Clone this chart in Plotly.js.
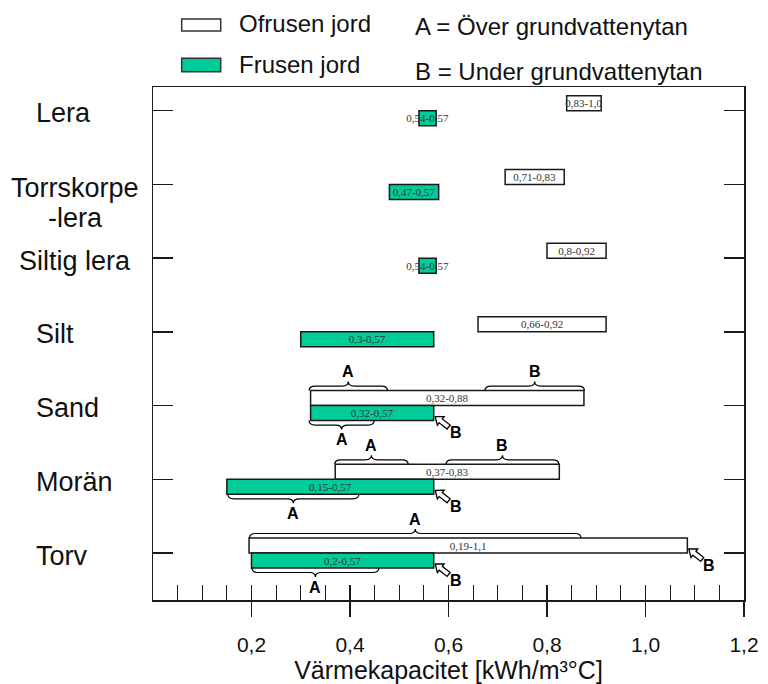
<!DOCTYPE html>
<html>
<head>
<meta charset="utf-8">
<script src="https://cdn.plot.ly/plotly-3.0.1.min.js"></script>
<style>html,body{margin:0;padding:0;background:#fff;}</style>
</head>
<body>
<div id="chart" style="width:768px;height:684px;"></div>
<script>
// ---------------- DATA ----------------
const soilTypes = ["Lera", "Torrskorpe<br>-lera", "Siltig lera", "Silt", "Sand", "Morän", "Torv"];
const unfrozenFrom = [0.84, 0.715, 0.80, 0.66, 0.32, 0.37, 0.195];
const unfrozenTo   = [0.91, 0.835, 0.92, 0.92, 0.875, 0.825, 1.085];
const unfrozenLabels = ["0,83-1,0", "0,71-0,83", "0,8-0,92", "0,66-0,92", "0,32-0,88", "0,37-0,83", "0,19-1,1"];
const frozenFrom = [0.54, 0.48, 0.54, 0.30, 0.32, 0.15, 0.20];
const frozenTo   = [0.575, 0.58, 0.575, 0.57, 0.57, 0.57, 0.57];
const frozenLabels = ["0,54-0,57", "0,47-0,57", "0,54-0,57", "0,3-0,57", "0,32-0,57", "0,15-0,57", "0,2-0,57"];
const seriesNames = ["Ofrusen jord", "Frusen jord"];
const keyTexts = ["A = Över grundvattenytan", "B = Under grundvattenytan"];
const xTickVals = [0.2, 0.4, 0.6, 0.8, 1.0, 1.2];
const xTickText = ["0,2", "0,4", "0,6", "0,8", "1,0", "1,2"];
const xTitle = "Värmekapacitet [kWh/m³°C]";

// braces (A = above groundwater, B = below groundwater)
const braceSoil   = ["Sand", "Sand", "Sand", "Morän", "Morän", "Morän", "Torv", "Torv"];
const braceBar    = ["unfrozen", "unfrozen", "frozen", "unfrozen", "unfrozen", "frozen", "unfrozen", "frozen"];
const braceFrom   = [0.317, 0.674, 0.317, 0.369, 0.595, 0.152, 0.196, 0.201];
const braceTo     = [0.476, 0.876, 0.449, 0.518, 0.824, 0.418, 0.869, 0.4585];
const braceLetter = ["A", "B", "A", "A", "B", "A", "A", "A"];

// arrows pointing at the end of a bar
const arrowSoil   = ["Sand", "Morän", "Torv", "Torv"];
const arrowBar    = ["frozen", "frozen", "frozen", "unfrozen"];
const arrowLetter = ["B", "B", "B", "B"];

// ---------------- LAYOUT CONSTANTS ----------------
const W = 768, H = 684;
const M = {l: 153, r: 24, t: 87, b: 84};
const plotW = W - M.l - M.r, plotH = H - M.t - M.b;
const xRange = [0, 1.2];
const yRange = [-0.6376, 6.3215];
const pxX = plotW / (xRange[1] - xRange[0]);
const pxY = plotH / (yRange[1] - yRange[0]);
const barH = 15 / pxY;
const GREEN = "#00CC99";
const INK = "#1a1a1a";

const nRows = soilTypes.length;
const rowY = soilTypes.map((_, i) => nRows - 1 - i);
const rowOf = name => soilTypes.indexOf(name);
const px2py = p => (H - M.b - p) / plotH;   // pixel y -> paper
const px2px = p => (p - M.l) / plotW;       // pixel x -> paper

const barFont = {family: "Liberation Serif, Times New Roman, serif", size: 11, color: "#333"};

const traces = [
  {
    type: "bar", orientation: "h", name: seriesNames[0],
    y: rowY, base: unfrozenFrom, x: unfrozenTo.map((v, i) => v - unfrozenFrom[i]),
    width: barH, offset: 0,
    marker: {color: "#ffffff", line: {color: INK, width: 1.5}},
    text: unfrozenLabels, textposition: "inside", insidetextanchor: "middle",
    textangle: 0, constraintext: "none", textfont: barFont, insidetextfont: barFont,
    cliponaxis: false, hoverinfo: "skip", showlegend: false
  },
  {
    type: "bar", orientation: "h", name: seriesNames[1],
    y: rowY, base: frozenFrom, x: frozenTo.map((v, i) => v - frozenFrom[i]),
    width: barH, offset: -barH,
    marker: {color: GREEN, line: {color: INK, width: 1.5}},
    text: frozenLabels, textposition: "inside", insidetextanchor: "middle",
    textangle: 0, constraintext: "none", textfont: barFont, insidetextfont: barFont,
    cliponaxis: false, hoverinfo: "skip", showlegend: false
  },
  {type: "scatter", x: [], y: [], xaxis: "x2", yaxis: "y", showlegend: false, hoverinfo: "skip"}
];

const shapes = [];
const annotations = [];

// category labels
soilTypes.forEach((name, i) => {
  const lines = name.split("<br>");
  const long = lines.length > 1 || name.length > 8;
  lines.forEach((ln, k) => {
    annotations.push({
      xref: "paper", yref: "y", x: long ? px2px(75) : px2px(34), y: rowY[i],
      xanchor: long ? "center" : "left", yanchor: "middle",
      yshift: -(2.5 + k * 30) - (lines.length > 1 ? 1.5 : 0),
      text: ln, showarrow: false,
      font: {family: "Liberation Sans, Arial, sans-serif", size: 27, color: "#111"}
    });
  });
});

// legend
const legFont = {family: "Liberation Sans, Arial, sans-serif", size: 24, color: "#111"};
[[19, 31, "#ffffff"], [58.3, 71.7, GREEN]].forEach((r, k) => {
  shapes.push({type: "rect", xref: "paper", yref: "paper",
    x0: px2px(181.7), x1: px2px(220.7), y0: px2py(r[1]), y1: px2py(r[0]),
    fillcolor: r[2], line: {color: "#333", width: 1.5}});
  annotations.push({xref: "paper", yref: "paper", x: px2px(236.5), y: px2py(k ? 64.3 : 23.3),
    xanchor: "left", yanchor: "middle", text: seriesNames[k], showarrow: false, font: legFont});
  annotations.push({xref: "paper", yref: "paper", x: px2px(413), y: px2py(k ? 71.7 : 26.5),
    xanchor: "left", yanchor: "middle", text: keyTexts[k], showarrow: false, font: legFont});
});

// bar geometry helpers
const letterFont = {family: "Liberation Sans, Arial, sans-serif", size: 16, color: "#000", weight: "bold"};
function barEdges(soil, bar) {
  const i = rowOf(soil);
  const y = rowY[i];
  if (bar === "unfrozen") return {top: y + barH, bottom: y, x0: unfrozenFrom[i], x1: unfrozenTo[i]};
  return {top: y, bottom: y - barH, x0: frozenFrom[i], x1: frozenTo[i]};
}

// braces
braceSoil.forEach((soil, k) => {
  const e = barEdges(soil, braceBar[k]);
  const s = braceBar[k] === "unfrozen" ? 1 : -1;
  const b = s > 0 ? e.top : e.bottom;
  const h1 = s * 4.5 / pxY, h2 = s * 9 / pxY, rx = 6 / pxX;
  const x0 = braceFrom[k], x1 = braceTo[k], xm = (x0 + x1) / 2;
  const p = `M${x0},${b} Q${x0},${b + h1} ${x0 + rx},${b + h1} L${xm - rx},${b + h1} ` +
            `Q${xm},${b + h1} ${xm},${b + h2} Q${xm},${b + h1} ${xm + rx},${b + h1} ` +
            `L${x1 - rx},${b + h1} Q${x1},${b + h1} ${x1},${b}`;
  shapes.push({type: "path", xref: "x", yref: "y", path: p, line: {color: "#000", width: 1.2}, fillcolor: "rgba(0,0,0,0)"});
  annotations.push({xref: "x", yref: "y", x: xm, y: b + h2 + s * 10 / pxY, xanchor: "center", yanchor: "middle",
    text: braceLetter[k], showarrow: false, font: letterFont});
});

// hollow arrows
arrowSoil.forEach((soil, k) => {
  const e = barEdges(soil, arrowBar[k]);
  const tipX = e.x1 + 1.5 / pxX, tipY = e.bottom + 4 / pxY;
  const th = 38 * Math.PI / 180, c = Math.cos(th), sn = Math.sin(th);
  const pts = [[0, 0], [7, 5.5], [7, 2.5], [17, 2.5], [17, -2.5], [7, -2.5], [7, -5.5]];
  const path = pts.map((q, j) => {
    const dx = q[0] * c - q[1] * sn, dy = q[0] * sn + q[1] * c; // screen px, y down
    return (j ? "L" : "M") + (tipX + dx / pxX) + "," + (tipY - dy / pxY);
  }).join(" ") + " Z";
  shapes.push({type: "path", xref: "x", yref: "y", path: path, fillcolor: "#fff", line: {color: "#000", width: 1.3}});
  annotations.push({xref: "x", yref: "y", x: e.x1 + 22 / pxX, y: e.bottom - 12 / pxY, xanchor: "center", yanchor: "middle",
    text: arrowLetter[k], showarrow: false, font: letterFont});
});

const layout = {
  width: W, height: H,
  margin: M,
  paper_bgcolor: "#fff", plot_bgcolor: "#fff",
  showlegend: false, barmode: "overlay",
  font: {family: "Liberation Sans, Arial, sans-serif", color: "#111"},
  xaxis: {
    range: xRange, tickmode: "array", tickvals: xTickVals, ticktext: xTickText,
    ticks: "outside", ticklen: 15, tickwidth: 1.5, tickcolor: INK, ticklabelstandoff: 10,
    showline: true, linewidth: 1.5, linecolor: INK, mirror: true,
    showgrid: false, zeroline: false, fixedrange: true,
    tickfont: {family: "Liberation Sans, Arial, sans-serif", size: 21, color: "#111"},
    title: {text: xTitle, font: {family: "Liberation Sans, Arial, sans-serif", size: 25, color: "#111"}, standoff: 17}
  },
  xaxis2: {
    overlaying: "x", anchor: "y", side: "bottom", range: xRange,
    tickmode: "linear", tick0: 0, dtick: 0.05, ticks: "inside", ticklen: 15, tickwidth: 1.2, tickcolor: INK,
    showticklabels: false, showline: false, showgrid: false, zeroline: false, fixedrange: true
  },
  yaxis: {
    range: yRange, tickmode: "array", tickvals: rowY, showticklabels: false,
    ticks: "inside", ticklen: 20, tickwidth: 1.5, tickcolor: INK,
    showline: true, linewidth: 1.5, linecolor: INK, mirror: "ticks",
    showgrid: false, zeroline: false, fixedrange: true
  },
  shapes: shapes,
  annotations: annotations
};

Plotly.newPlot("chart", traces, layout, {displayModeBar: false, staticPlot: true});
</script>
</body>
</html>
